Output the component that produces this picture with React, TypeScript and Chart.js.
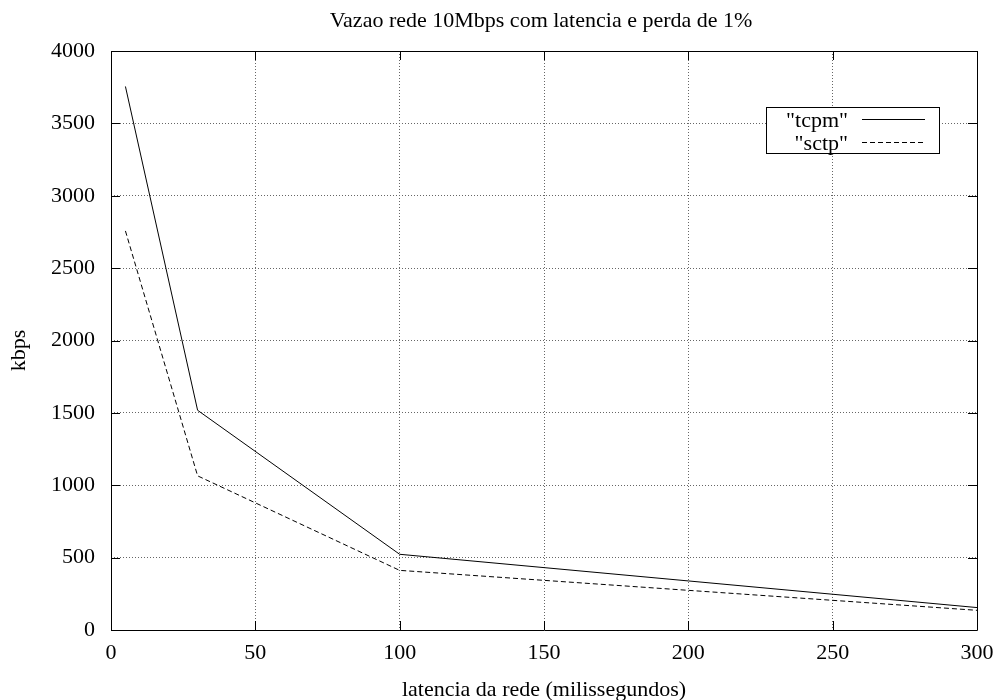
import React, { useEffect, useRef } from "react";
import { Chart, registerables } from "chart.js";

Chart.register(...registerables);

const latencies = [5, 30, 100, 300];
const tcpmKbps = [3755, 1518, 523, 155];
const sctpKbps = [2757, 1065, 412, 136];
const seriesNames = ['"tcpm"', '"sctp"'];
const xTicks = [0, 50, 100, 150, 200, 250, 300];
const yTicks = [0, 500, 1000, 1500, 2000, 2500, 3000, 3500, 4000];

const chartTitle = "Vazao rede 10Mbps com latencia e perda de 1%";
const xTitle = "latencia da rede (milissegundos)";
const yTitle = "kbps";

const FONT = '"Liberation Serif", "Times New Roman", serif';
const FONT_SIZE = 22;

const framePlugin = {
  id: "gnuFrame",
  afterDatasetsDraw(chart: any) {
    const { ctx, chartArea, scales } = chart;
    const { left, right, top, bottom } = chartArea;
    const tick = 9;
    ctx.save();
    ctx.strokeStyle = "#000";
    ctx.lineWidth = 1;
    ctx.setLineDash([]);
    ctx.beginPath();
    ctx.rect(Math.round(left) + 0.5, Math.round(top) + 0.5, Math.round(right - left), Math.round(bottom - top));
    for (const v of yTicks) {
      const y = Math.round(scales.y.getPixelForValue(v)) + 0.5;
      ctx.moveTo(left, y);
      ctx.lineTo(left + tick, y);
      ctx.moveTo(right, y);
      ctx.lineTo(right - tick, y);
    }
    for (const v of xTicks) {
      const x = Math.round(scales.x.getPixelForValue(v)) + 0.5;
      ctx.moveTo(x, bottom);
      ctx.lineTo(x, bottom - tick);
      ctx.moveTo(x, top);
      ctx.lineTo(x, top + tick);
    }
    ctx.stroke();

    // key box in the upper right corner
    const boxW = 173;
    const boxH = 46;
    const boxX = Math.round(right) - 38 - boxW;
    const boxY = Math.round(top) + 56;
    ctx.fillStyle = "#fff";
    ctx.fillRect(boxX, boxY, boxW, boxH);
    ctx.strokeRect(boxX + 0.5, boxY + 0.5, boxW, boxH);
    ctx.font = `${FONT_SIZE}px ${FONT}`;
    ctx.fillStyle = "#000";
    ctx.textAlign = "right";
    ctx.textBaseline = "middle";
    chart.data.datasets.forEach((ds: any, i: number) => {
      const cy = boxY + 12 + i * 23;
      ctx.fillText(ds.label, boxX + 82, cy + 2);
      ctx.beginPath();
      ctx.setLineDash(ds.borderDash || []);
      ctx.moveTo(boxX + 96, cy + 0.5);
      ctx.lineTo(boxX + 159, cy + 0.5);
      ctx.stroke();
    });
    ctx.restore();
  },
  afterDraw(chart: any) {
    const { ctx, chartArea } = chart;
    const cx = (chartArea.left + chartArea.right) / 2;
    ctx.save();
    ctx.font = `${FONT_SIZE}px ${FONT}`;
    ctx.fillStyle = "#000";
    ctx.textAlign = "center";
    ctx.textBaseline = "middle";
    ctx.fillText(chartTitle, cx - 3, 21);
    ctx.fillText(xTitle, cx, 690);
    ctx.translate(19, (chartArea.top + chartArea.bottom) / 2 + 10);
    ctx.rotate(-Math.PI / 2);
    ctx.fillText(yTitle, 0, 0);
    ctx.restore();
  },
};

const plainNumber = (value: any) => String(value);

export default function App() {
  const canvasRef = useRef<HTMLCanvasElement | null>(null);

  useEffect(() => {
    const canvas = canvasRef.current;
    if (!canvas) return;
    const chart = new Chart(canvas, {
      type: "line",
      data: {
        datasets: [
          {
            label: seriesNames[0],
            data: latencies.map((x, i) => ({ x, y: tcpmKbps[i] })),
            borderColor: "#000",
            borderWidth: 1,
            pointRadius: 0,
            tension: 0,
            fill: false,
          },
          {
            label: seriesNames[1],
            data: latencies.map((x, i) => ({ x, y: sctpKbps[i] })),
            borderColor: "#000",
            borderWidth: 1,
            borderDash: [5, 3],
            pointRadius: 0,
            tension: 0,
            fill: false,
          },
        ],
      },
      options: {
        animation: false,
        responsive: false,
        maintainAspectRatio: false,
        layout: { padding: { left: 0, top: 51, right: 23, bottom: 0 } },
        plugins: {
          legend: { display: false },
          title: { display: false },
          tooltip: { enabled: false },
        },
        scales: {
          x: {
            type: "linear",
            min: 0,
            max: 300,
            afterBuildTicks: (scale: any) => {
              scale.ticks = xTicks.map((value) => ({ value }));
            },
            afterFit: (scale: any) => {
              scale.height = 70;
              scale.paddingLeft = 0;
              scale.paddingRight = 0;
            },
            ticks: {
              color: "#000",
              padding: 10,
              maxRotation: 0,
              callback: plainNumber,
              font: { family: FONT, size: FONT_SIZE },
            },
            grid: { color: "#666", lineWidth: 1, drawTicks: false },
            border: { display: false, dash: [1, 2] },
          },
          y: {
            type: "linear",
            min: 0,
            max: 4000,
            afterBuildTicks: (scale: any) => {
              scale.ticks = yTicks.map((value) => ({ value }));
            },
            afterFit: (scale: any) => {
              scale.width = 111;
              scale.paddingTop = 0;
              scale.paddingBottom = 0;
            },
            ticks: {
              color: "#000",
              padding: 16,
              callback: plainNumber,
              font: { family: FONT, size: FONT_SIZE },
            },
            grid: { color: "#666", lineWidth: 1, drawTicks: false },
            border: { display: false, dash: [1, 2] },
          },
        },
      },
      plugins: [framePlugin],
    });
    return () => chart.destroy();
  }, []);

  return (
    <div style={{ position: "fixed", left: 0, top: 0, width: 1000, height: 700, background: "#fff" }}>
      <canvas ref={canvasRef} width={1000} height={700} style={{ display: "block" }} />
    </div>
  );
}
